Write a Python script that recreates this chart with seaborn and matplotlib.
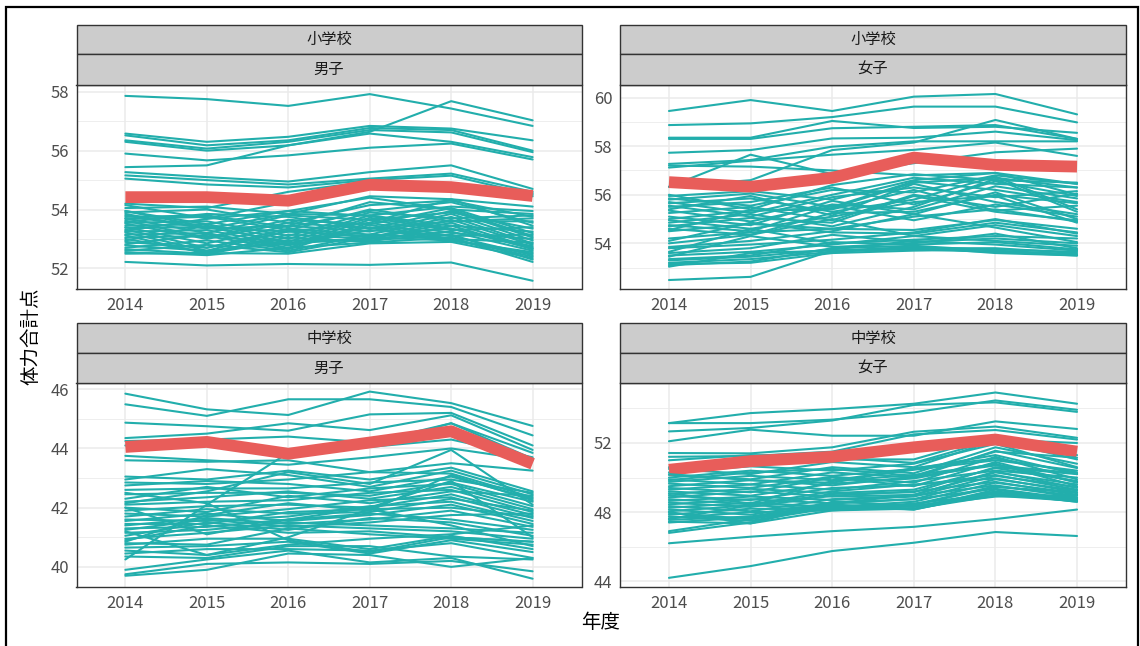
import numpy as np
import pandas as pd
import matplotlib
matplotlib.use("Agg")
import matplotlib.pyplot as plt
import seaborn as sns
from matplotlib.patches import Rectangle
from matplotlib.ticker import FixedLocator

sns.set_style("white")
plt.rcParams['font.family'] = ['Noto Sans CJK JP', 'DejaVu Sans']

years = [2014, 2015, 2016, 2017, 2018, 2019]
school_labels = ["小学校", "小学校", "中学校", "中学校"]
sex_labels = ["男子", "女子", "男子", "女子"]
x_title = "年度"
y_title = "体力合計点"

# highlighted prefecture (red)
hl_elem_boys = [54.42, 54.42, 54.30, 54.84, 54.76, 54.46]
hl_elem_girls = [56.52, 56.33, 56.70, 57.53, 57.23, 57.16]
hl_jhs_boys = [44.05, 44.22, 43.82, 44.20, 44.58, 43.48]
hl_jhs_girls = [50.45, 50.95, 51.20, 51.75, 52.20, 51.50]

# other prefectures (teal)
elem_boys = [
    [57.86, 57.75, 57.52, 57.92, 57.43, 56.84],
    [55.44, 55.50, 56.18, 56.64, 57.68, 57.03],
    [56.58, 56.30, 56.47, 56.84, 56.75, 56.35],
    [56.52, 56.18, 56.35, 56.77, 56.70, 56.00],
    [56.35, 56.07, 56.30, 56.70, 56.62, 55.95],
    [56.30, 56.00, 56.18, 56.58, 56.30, 55.78],
    [55.90, 55.67, 55.84, 56.10, 56.24, 55.70],
    [55.27, 55.10, 54.95, 55.27, 55.50, 54.70],
    [55.16, 55.00, 54.85, 55.05, 55.22, 54.60],
    [55.05, 54.85, 54.75, 55.00, 55.15, 54.50],
    [52.22, 52.10, 52.15, 52.12, 52.20, 51.58],
    [54.20, 54.05, 54.60, 54.95, 54.90, 54.45],
    [54.15, 53.70, 54.25, 54.80, 54.85, 54.55],
    [54.05, 54.10, 53.85, 54.45, 54.35, 54.10],
    [53.95, 53.50, 53.95, 54.40, 54.00, 53.85],
    [53.90, 54.00, 53.55, 54.15, 54.30, 53.75],
    [53.85, 53.35, 53.85, 53.80, 54.10, 53.95],
    [53.75, 53.80, 53.40, 53.95, 54.25, 53.55],
    [53.70, 53.20, 53.80, 53.65, 53.90, 53.35],
    [53.68, 53.75, 53.30, 54.00, 53.60, 53.60],
    [53.62, 53.05, 53.65, 53.50, 54.05, 53.20],
    [53.55, 53.60, 53.10, 53.90, 53.70, 53.80],
    [53.52, 53.00, 53.55, 53.35, 53.95, 53.05],
    [53.45, 53.50, 53.00, 53.80, 53.45, 53.25],
    [53.40, 52.85, 53.45, 53.25, 53.85, 52.95],
    [53.38, 53.40, 52.90, 53.72, 53.30, 53.40],
    [53.32, 52.70, 53.35, 53.15, 53.75, 52.85],
    [53.25, 53.30, 52.80, 53.65, 53.20, 53.00],
    [53.22, 52.60, 53.28, 53.05, 53.65, 52.80],
    [53.15, 53.20, 52.70, 53.55, 53.10, 53.15],
    [53.12, 52.50, 53.15, 53.00, 53.55, 52.70],
    [53.05, 53.10, 52.65, 53.48, 53.00, 52.88],
    [53.00, 52.55, 53.05, 52.90, 53.45, 52.65],
    [52.95, 53.45, 52.85, 53.40, 52.95, 52.55],
    [52.90, 52.70, 53.25, 53.10, 53.35, 52.75],
    [52.82, 53.15, 52.78, 53.30, 53.10, 52.45],
    [52.78, 52.60, 52.85, 53.00, 53.25, 52.60],
    [52.70, 52.95, 52.60, 53.15, 53.00, 52.40],
    [52.65, 52.50, 52.95, 52.95, 53.15, 52.30],
    [52.60, 52.80, 52.55, 53.05, 52.95, 52.50],
    [52.55, 52.45, 52.70, 52.88, 53.05, 52.22],
    [52.50, 52.52, 52.50, 52.85, 52.90, 52.35],
    [53.95, 53.40, 53.25, 53.55, 54.35, 53.45],
    [53.58, 53.85, 53.75, 53.35, 53.60, 53.70],
    [53.28, 53.68, 53.95, 53.78, 53.35, 52.68],
    [53.80, 53.35, 53.45, 54.25, 54.00, 53.10],
]

elem_girls = [
    [59.45, 59.90, 59.45, 60.04, 60.15, 59.31],
    [58.87, 58.94, 59.20, 59.63, 59.63, 58.98],
    [58.35, 58.35, 59.04, 58.75, 58.80, 58.55],
    [58.30, 58.30, 58.74, 58.80, 58.87, 58.30],
    [57.73, 57.84, 58.32, 58.35, 58.60, 58.25],
    [57.27, 57.43, 57.98, 58.20, 58.20, 58.20],
    [56.33, 57.65, 56.85, 57.30, 57.75, 57.90],
    [56.33, 56.60, 57.84, 58.15, 59.08, 58.30],
    [57.20, 57.16, 57.00, 56.80, 56.90, 56.45],
    [57.12, 57.40, 57.65, 57.85, 58.15, 57.60],
    [52.49, 52.62, 53.70, 53.85, 53.60, 53.50],
    [56.00, 55.40, 56.40, 56.85, 56.60, 56.50],
    [55.95, 56.15, 55.80, 56.60, 56.90, 56.00],
    [55.85, 55.55, 56.20, 56.10, 56.80, 56.45],
    [55.80, 56.05, 55.50, 56.55, 56.20, 55.70],
    [55.70, 55.25, 56.00, 56.70, 56.45, 56.30],
    [55.65, 55.85, 55.30, 55.80, 56.75, 55.40],
    [55.55, 55.10, 55.90, 56.30, 55.90, 56.15],
    [55.50, 55.70, 56.30, 55.60, 56.55, 55.95],
    [55.40, 55.95, 55.15, 56.45, 55.70, 55.20],
    [55.35, 54.90, 55.60, 55.40, 56.35, 55.85],
    [55.25, 55.50, 54.95, 56.00, 55.50, 56.05],
    [55.10, 54.75, 55.75, 55.20, 56.10, 55.00],
    [55.00, 55.35, 55.40, 56.20, 55.35, 55.55],
    [54.95, 54.60, 55.10, 55.70, 55.95, 54.85],
    [54.85, 55.20, 54.70, 55.50, 56.65, 55.30],
    [54.75, 54.50, 55.55, 54.95, 55.60, 55.10],
    [54.70, 55.05, 54.85, 55.95, 55.30, 54.95],
    [54.60, 54.35, 55.25, 55.30, 56.00, 55.65],
    [54.50, 54.80, 54.60, 55.10, 55.40, 54.90],
    [54.55, 55.35, 55.45, 56.50, 56.70, 56.30],
    [54.20, 54.45, 54.60, 54.55, 54.96, 54.60],
    [54.10, 54.85, 54.45, 54.40, 54.85, 54.45],
    [54.00, 54.35, 55.00, 54.30, 54.75, 54.30],
    [53.85, 54.10, 54.50, 55.20, 54.65, 54.05],
    [53.80, 53.95, 54.15, 54.45, 55.00, 54.40],
    [53.65, 54.60, 54.00, 54.15, 54.30, 54.20],
    [53.60, 53.80, 54.35, 54.05, 54.20, 54.00],
    [53.50, 53.65, 53.95, 54.30, 54.10, 53.90],
    [53.45, 54.30, 53.85, 54.00, 54.40, 53.80],
    [53.35, 53.50, 54.05, 53.95, 54.05, 53.75],
    [53.30, 53.45, 53.75, 54.10, 53.95, 53.70],
    [53.20, 53.35, 53.65, 53.80, 53.80, 53.60],
    [53.10, 53.25, 53.80, 53.90, 53.70, 53.55],
    [53.04, 53.60, 53.70, 53.75, 53.65, 53.50],
    [53.15, 53.20, 53.60, 53.70, 53.75, 53.65],
]

jhs_boys = [
    [45.85, 45.32, 45.13, 45.92, 45.53, 44.76],
    [45.49, 45.10, 45.66, 45.66, 45.40, 44.44],
    [44.87, 44.75, 44.60, 45.15, 45.20, 44.10],
    [44.35, 44.50, 44.85, 44.62, 45.12, 43.95],
    [44.25, 44.30, 44.40, 44.20, 44.85, 43.85],
    [44.10, 44.20, 43.90, 44.05, 44.30, 43.70],
    [43.75, 43.60, 43.45, 43.70, 44.00, 43.60],
    [40.25, 42.10, 43.85, 44.10, 44.85, 43.65],
    [43.60, 43.55, 43.60, 43.20, 43.50, 43.25],
    [43.05, 42.95, 43.25, 42.95, 43.35, 42.55],
    [42.95, 43.30, 43.10, 42.70, 43.25, 42.45],
    [42.85, 42.80, 42.95, 43.20, 43.15, 42.35],
    [42.75, 42.90, 42.80, 42.55, 43.05, 42.30],
    [42.60, 42.65, 42.65, 42.85, 42.95, 42.50],
    [42.45, 42.50, 42.50, 42.40, 42.85, 42.20],
    [42.30, 42.70, 42.35, 42.65, 42.80, 42.05],
    [42.20, 42.35, 42.55, 42.30, 42.70, 41.95],
    [42.10, 42.20, 42.25, 42.50, 42.60, 41.85],
    [42.00, 41.85, 42.40, 42.15, 42.55, 42.40],
    [41.90, 42.05, 42.10, 42.00, 42.45, 41.75],
    [41.80, 41.70, 41.95, 42.25, 42.35, 41.65],
    [41.70, 41.95, 41.80, 41.85, 42.30, 41.90],
    [41.60, 41.55, 41.70, 42.05, 42.20, 41.55],
    [41.55, 41.80, 41.55, 41.75, 42.10, 41.45],
    [41.45, 41.45, 41.85, 41.95, 42.00, 41.70],
    [41.40, 41.65, 41.45, 41.60, 41.90, 41.35],
    [41.30, 41.35, 41.60, 41.80, 41.60, 41.25],
    [41.25, 41.60, 41.35, 41.50, 41.75, 41.80],
    [41.15, 41.25, 41.50, 41.40, 41.30, 41.15],
    [41.05, 41.50, 41.25, 41.65, 41.50, 41.05],
    [40.95, 41.15, 41.40, 41.30, 41.20, 40.95],
    [40.90, 41.40, 41.15, 41.20, 41.00, 40.85],
    [40.80, 40.75, 41.30, 41.10, 40.95, 40.75],
    [40.75, 40.95, 40.95, 40.60, 41.05, 40.60],
    [40.65, 40.70, 40.85, 40.45, 40.90, 40.50],
    [40.55, 40.40, 40.75, 40.95, 41.10, 41.40],
    [40.45, 40.60, 40.60, 40.55, 40.80, 40.30],
    [40.35, 40.30, 40.70, 40.70, 40.35, 40.25],
    [39.90, 40.25, 40.55, 40.15, 40.30, 39.60],
    [39.70, 39.90, 40.45, 40.40, 40.00, 40.30],
    [39.75, 40.10, 40.15, 40.10, 40.20, 39.85],
    [42.15, 42.55, 43.20, 42.80, 43.95, 42.10],
    [42.00, 41.10, 41.60, 42.00, 42.90, 41.00],
    [41.20, 40.40, 41.00, 41.95, 41.40, 40.70],
    [42.50, 42.15, 40.90, 40.50, 41.00, 40.85],
    [40.85, 41.75, 42.15, 41.90, 43.10, 42.25],
]

jhs_girls = [
    [53.15, 53.73, 53.96, 54.27, 54.92, 54.27],
    [53.15, 53.15, 53.35, 53.77, 54.46, 53.92],
    [52.67, 52.87, 53.30, 54.20, 54.35, 53.80],
    [52.10, 52.77, 52.42, 52.42, 53.25, 52.81],
    [51.42, 51.40, 51.75, 52.65, 52.95, 52.30],
    [51.20, 51.25, 51.50, 52.50, 52.75, 52.20],
    [51.00, 51.30, 51.15, 50.85, 52.20, 52.00],
    [46.20, 46.58, 46.90, 47.15, 47.60, 48.15],
    [44.20, 44.88, 45.75, 46.23, 46.85, 46.62],
    [50.60, 50.75, 51.05, 51.05, 52.40, 51.30],
    [50.50, 50.20, 50.90, 50.60, 52.15, 51.05],
    [50.30, 50.65, 50.40, 50.80, 51.95, 50.60],
    [50.15, 49.90, 50.60, 50.25, 51.75, 50.80],
    [50.00, 50.40, 50.10, 50.50, 51.30, 50.20],
    [49.90, 49.60, 50.30, 50.00, 51.55, 50.55],
    [49.75, 50.10, 49.85, 50.45, 51.00, 50.40],
    [49.65, 49.40, 50.05, 49.70, 51.20, 49.90],
    [49.50, 49.85, 49.55, 50.05, 50.70, 50.25],
    [49.40, 49.15, 50.00, 49.50, 50.90, 49.70],
    [49.30, 49.60, 49.30, 49.80, 50.40, 50.00],
    [49.20, 48.95, 49.65, 49.95, 50.80, 49.50],
    [49.05, 49.35, 49.10, 49.30, 50.55, 49.80],
    [48.95, 48.70, 49.40, 49.55, 50.15, 49.30],
    [48.85, 49.20, 48.90, 49.00, 50.30, 49.60],
    [48.75, 48.45, 49.20, 49.60, 49.95, 49.15],
    [48.65, 48.90, 48.70, 48.90, 50.10, 49.45],
    [48.55, 48.30, 48.95, 49.20, 49.75, 49.00],
    [48.45, 48.75, 48.50, 48.75, 49.90, 49.25],
    [48.35, 48.05, 48.75, 48.95, 49.55, 48.85],
    [48.25, 48.55, 48.30, 48.60, 49.70, 49.10],
    [48.15, 47.85, 48.55, 48.75, 49.35, 48.75],
    [48.05, 48.40, 48.20, 48.45, 49.50, 48.95],
    [47.95, 47.60, 48.40, 48.30, 49.20, 48.70],
    [47.85, 48.20, 48.15, 48.50, 49.05, 48.85],
    [47.75, 47.50, 48.25, 48.20, 49.30, 48.65],
    [47.65, 48.00, 48.10, 48.35, 48.95, 48.80],
    [47.55, 47.75, 48.45, 48.15, 49.10, 48.60],
    [47.45, 47.35, 48.10, 48.20, 48.95, 48.65],
    [47.40, 47.70, 48.30, 48.15, 49.15, 48.60],
    [46.90, 47.60, 48.35, 48.35, 48.90, 49.00],
    [46.80, 47.40, 48.60, 48.40, 49.45, 49.15],
    [48.00, 47.35, 48.50, 49.00, 50.35, 49.40],
    [47.60, 48.40, 49.05, 49.15, 50.60, 50.20],
    [49.10, 48.50, 49.80, 50.15, 50.75, 49.75],
    [50.20, 49.85, 49.70, 50.55, 51.10, 50.30],
    [49.85, 50.30, 50.50, 50.10, 51.50, 51.15],
]

panel_others = [elem_boys, elem_girls, jhs_boys, jhs_girls]
panel_hl = [hl_elem_boys, hl_elem_girls, hl_jhs_boys, hl_jhs_girls]
panel_ylim = [(51.30, 58.23), (52.12, 60.52), (39.32, 46.21), (43.67, 55.47)]
panel_major = [[52, 54, 56, 58], [54, 56, 58, 60], [40, 42, 44, 46], [44, 48, 52]]
panel_minor = [[53, 55, 57], [53, 55, 57, 59], [41, 43, 45], [46, 50, 54]]

TEAL = "#22AEAC"
RED = "#E85D5A"
W, H = 1140, 646

fig = plt.figure(figsize=(W / 100, H / 100), dpi=100)
fig.patch.set_facecolor("white")

cols = [(76.5, 581.5), (620.0, 1126.0)]
rows = [(25.0, 54.0, 85.0, 289.0), (323.0, 353.0, 383.0, 587.0)]

def fx(px):
    return px / W

def fy(py):
    return 1 - py / H

for i in range(4):
    r, c = divmod(i, 2)
    x0, x1 = cols[c]
    s0, s1, p0, p1 = rows[r]
    ax = fig.add_axes([fx(x0), fy(p1), fx(x1) - fx(x0), fy(p0) - fy(p1)])

    others = panel_others[i]
    n_before = 14
    recs = []
    for k, vals in enumerate(others):
        for y, v in zip(years, vals):
            recs.append({"pref": k, "year": y, "value": v})
    df = pd.DataFrame(recs)
    df_a = df[df["pref"] < n_before]
    df_b = df[df["pref"] >= n_before]
    hl = pd.DataFrame({"year": years, "value": panel_hl[i]})

    sns.lineplot(data=df_a, x="year", y="value", units="pref", estimator=None,
                 color=TEAL, lw=1.5, ax=ax, zorder=3)
    sns.lineplot(data=hl, x="year", y="value", color=RED, lw=8.5, ax=ax, zorder=3,
                 solid_capstyle="butt")
    sns.lineplot(data=df_b, x="year", y="value", units="pref", estimator=None,
                 color=TEAL, lw=1.5, ax=ax, zorder=3)

    ax.set_xlim(2013.4, 2019.6)
    ax.set_ylim(*panel_ylim[i])
    ax.set_xticks(years)
    ax.set_xticklabels([str(y) for y in years])
    ax.set_yticks(panel_major[i])
    ax.yaxis.set_minor_locator(FixedLocator(panel_minor[i]))
    ax.grid(True, which="major", color="#EBEBEB", lw=1.1, zorder=0)
    ax.grid(True, which="minor", axis="y", color="#EBEBEB", lw=0.6, zorder=0)
    ax.set_axisbelow(True)
    ax.tick_params(axis="both", which="major", length=3.5, width=0.8, color="#333333",
                   labelsize=12, labelcolor="#4D4D4D", pad=2, direction="out")
    ax.tick_params(axis="y", which="minor", length=0)
    ax.set_xlabel("")
    ax.set_ylabel("")
    for sp in ax.spines.values():
        sp.set_color("#333333")
        sp.set_linewidth(1.0)
    ax.set_facecolor("white")

    # strips
    for (t0, t1), label in [((s0, s1), school_labels[i]), ((s1, p0), sex_labels[i])]:
        rect = Rectangle((fx(x0), fy(t1)), fx(x1) - fx(x0), fy(t0) - fy(t1),
                         transform=fig.transFigure, facecolor="#CCCCCC",
                         edgecolor="#333333", lw=1.0, zorder=1)
        fig.patches.append(rect)
        fig.text(fx((x0 + x1) / 2), fy((t0 + t1) / 2), label, ha="center", va="center",
                 fontsize=11, color="#1A1A1A")

fig.text(fx(601), fy(623), x_title, ha="center", va="center", fontsize=14, color="black")
fig.text(fx(31), fy(336), y_title, ha="center", va="center", rotation=90,
         fontsize=14, color="black")

border = Rectangle((fx(5.5), fy(660)), fx(1138) - fx(5.5), fy(7) - fy(660),
                   transform=fig.transFigure, facecolor="none", edgecolor="black",
                   lw=1.6, zorder=10)
fig.patches.append(border)

fig.savefig("out.png", dpi=100, facecolor="white")
